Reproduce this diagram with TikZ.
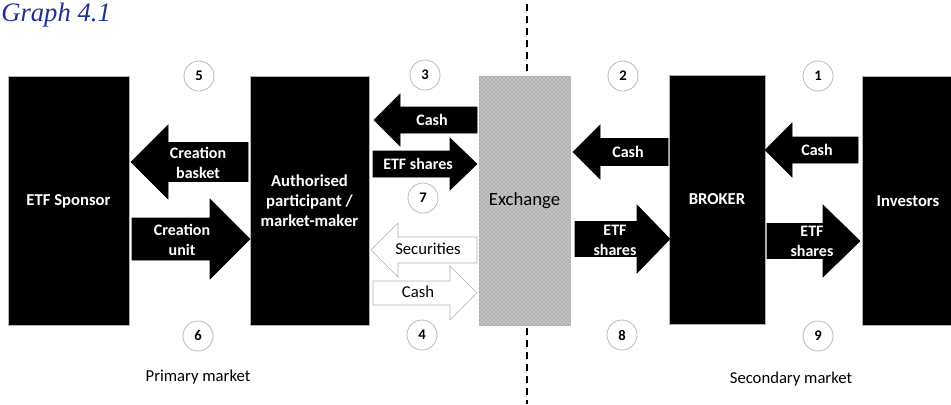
\documentclass[tikz,border=0pt]{standalone}
\usepackage{fontspec}
\setmainfont{Carlito}
\newfontfamily\titlefont{Liberation Serif}
\usetikzlibrary{patterns}
\definecolor{titleblue}{RGB}{28,48,150}
\newcommand*{\blockarrow}[7]{%
  \draw[#1] (#2,#5-#6) -- (#3,#5-#6) -- (#3,#5-#7) -- (#4,#5)
    -- (#3,#5+#7) -- (#3,#5+#6) -- (#2,#5+#6) -- cycle;}

\begin{document}
\begin{tikzpicture}[x=0.75pt,y=-0.75pt,
    box/.style={fill=black,draw=gray!60,text=white,inner sep=0,align=center,
      minimum height=186.75pt,font=\bfseries\fontsize{12.5}{15}\selectfont},
    exch/.style={box,fill=gray!45,draw=gray!50,text=black,
      postaction={pattern=crosshatch dots,pattern color=black!60},
      font=\fontsize{14}{17}\selectfont},
    num/.style={circle,draw=gray!55,semithick,minimum size=22.5pt,inner sep=0,
      font=\bfseries\fontsize{11}{13}\selectfont},
    lbl/.style={text=white,align=center,inner sep=0,
      font=\bfseries\fontsize{12}{15}\selectfont},
    openlbl/.style={text=black,inner sep=0,font=\fontsize{12.5}{15}\selectfont},
    fullarrow/.style={fill=black,draw=black},
    openarrow/.style={fill=white,draw=gray!60,thin},
    market/.style={inner sep=0,font=\fontsize{12.5}{15}\selectfont},
    divider/.style={line width=2pt,dash pattern=on 5pt off 4pt}
  ]
  \useasboundingbox (0,0) rectangle (951,404);

  \node[anchor=base west,inner sep=0,text=titleblue,
    font=\titlefont\itshape\fontsize{20}{23}\selectfont] (title) at (1,21) {Graph 4.1};

  \coordinate (divtop) at (527,4);
  \coordinate (divbot) at (527,404);
  \draw[divider] (divtop) -- (divbot);

  \node[box,minimum width=90.75pt] (sponsor) at (68.5,201) {ETF Sponsor};
  \node[box,minimum width=89.25pt] (ap) at (309.5,200.5) {Authorised\\participant /\\market-maker};
  \node[exch,minimum width=68.25pt] (exchange) at (524.5,200.5) {Exchange};
  \node[box,minimum width=72pt] (broker) at (717,199.5) {BROKER};
  \node[box,minimum width=69pt] (investors) at (908,201) {Investors};

  \blockarrow{fullarrow}{248}{168}{131}{162}{19.5}{37}
  \blockarrow{fullarrow}{132}{210}{250}{239}{21}{40}
  \blockarrow{fullarrow}{477}{400}{374}{120}{13}{26}
  \blockarrow{fullarrow}{373}{450}{477}{164}{13}{26}
  \blockarrow{openarrow}{477}{398}{371}{250}{13}{27}
  \blockarrow{openarrow}{373}{450}{477}{293}{12}{27}
  \blockarrow{fullarrow}{668}{600}{573}{152}{13.5}{27}
  \blockarrow{fullarrow}{575}{637}{670}{239}{17.5}{34}
  \blockarrow{fullarrow}{858}{792}{765}{150}{13}{27}
  \blockarrow{fullarrow}{767}{823}{860}{241}{17.5}{36}

  \node[lbl] (basket) at (198,163) {Creation\\basket};
  \node[lbl] (unit) at (182,240) {Creation\\unit};
  \node[lbl] (cashap) at (432,120) {Cash};
  \node[lbl] (sharesap) at (418,164) {ETF shares};
  \node[openlbl] (securities) at (428,249) {Securities};
  \node[openlbl] (cashex) at (418,292) {Cash};
  \node[lbl] (cashbr) at (628,152) {Cash};
  \node[lbl] (sharesbr) at (615,240) {ETF\\shares};
  \node[lbl] (cashinv) at (817,150) {Cash};
  \node[lbl] (sharesinv) at (812,241) {ETF\\shares};

  \node[num] (n5) at (199,76) {5};
  \node[num] (n3) at (425,75) {3};
  \node[num] (n2) at (623,76) {2};
  \node[num] (n1) at (818,76) {1};
  \node[num] (n7) at (423,198) {7};
  \node[num] (n6) at (198,336) {6};
  \node[num] (n4) at (422,335) {4};
  \node[num] (n8) at (622,335) {8};
  \node[num] (n9) at (818,336) {9};

  \node[market] (primary) at (198,377) {Primary market};
  \node[market] (secondary) at (791,379) {Secondary market};
\end{tikzpicture}
\end{document}
